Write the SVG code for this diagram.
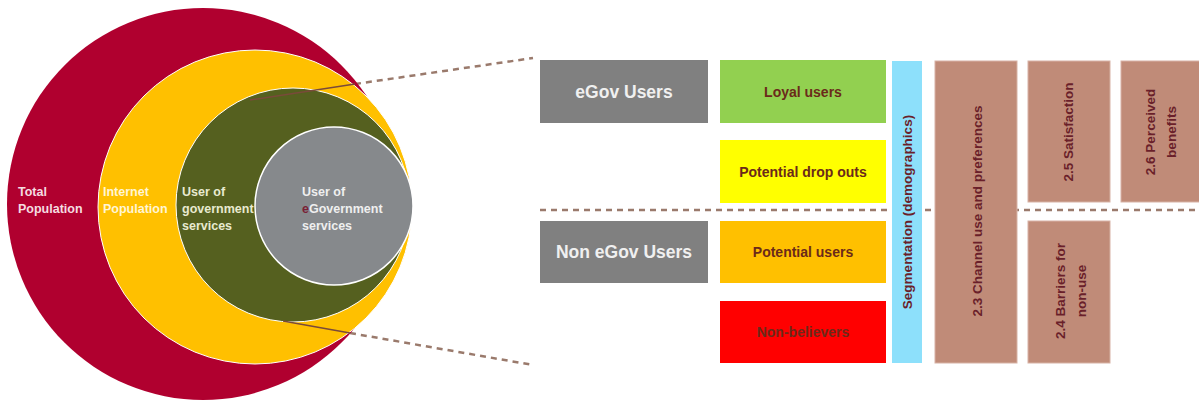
<svg xmlns="http://www.w3.org/2000/svg" width="1199" height="402" viewBox="0 0 1199 402">
<style>
.ct{font-family:"Liberation Sans",Arial,sans-serif;font-size:12.5px;font-weight:bold;}
.bt{font-family:"Liberation Sans",Arial,sans-serif;font-size:14px;font-weight:bold;fill:#6b2a1a;text-anchor:middle;}
.gt{font-family:"Liberation Sans",Arial,sans-serif;font-size:17.5px;font-weight:bold;fill:#f0f0f0;text-anchor:middle;}
.vt{font-family:"Liberation Sans",Arial,sans-serif;font-size:13.5px;font-weight:bold;fill:#6a1f2a;text-anchor:middle;}
.brown{fill:#c08b78;stroke:#d7b2a5;stroke-width:1;}
.dash{stroke:#9a7a6c;stroke-width:2.5;stroke-dasharray:6,5;fill:none;}
.solid{stroke:#7a4a3a;stroke-width:1.5;fill:none;}
</style>
<rect width="1199" height="402" fill="#ffffff"/>
<g id="connectors">
<line class="dash" x1="540" y1="210" x2="1199" y2="210"/>
<line class="dash" x1="355" y1="84" x2="533" y2="58"/>
<line class="dash" x1="350" y1="333" x2="533" y2="365"/>
</g>
<g id="total-population">
<circle cx="203" cy="204" r="196" fill="#b0002f"/>
<text class="ct" fill="#f5dce0"><tspan x="18" y="196">Total</tspan><tspan x="18" y="213">Population</tspan></text>
</g>
<g id="internet-population">
<circle cx="255" cy="207" r="157" fill="#ffc000" stroke="#ffffff" stroke-width="1"/>
<text class="ct" fill="#fff5d6"><tspan x="103" y="196">Internet</tspan><tspan x="103" y="213">Population</tspan></text>
</g>
<g id="gov-users">
<circle cx="293" cy="205" r="117" fill="#55601f" stroke="#ffffff" stroke-width="1"/>
<text class="ct" fill="#e8ead0"><tspan x="182" y="196">User of</tspan><tspan x="182" y="213">government</tspan><tspan x="182" y="230">services</tspan></text>
</g>
<g id="egov-users-circle">
<circle cx="334" cy="206" r="79" fill="#86898c" stroke="#ffffff" stroke-width="1.5"/>
<text class="ct" fill="#efefef"><tspan x="302" y="196">User of</tspan><tspan x="302" y="213"><tspan fill="#7a1f35">e</tspan>Government</tspan><tspan x="302" y="230">services</tspan></text>
</g>
<g id="zoom-lines">
<line class="solid" x1="250" y1="100" x2="355" y2="84"/>
<line class="solid" x1="283" y1="321" x2="350" y2="333"/>
</g>
<g id="egov-users">
<rect x="540" y="60" width="168" height="63" fill="#808080"/>
<text class="gt" x="624" y="98">eGov Users</text>
</g>
<g id="non-egov-users">
<rect x="540" y="221" width="168" height="62" fill="#808080"/>
<text class="gt" x="624" y="258">Non eGov Users</text>
</g>
<g id="loyal-users">
<rect x="720" y="60" width="166" height="63" fill="#92d050"/>
<text class="bt" x="803" y="97">Loyal users</text>
</g>
<g id="potential-drop-outs">
<rect x="720" y="140" width="166" height="63" fill="#ffff00"/>
<text class="bt" x="803" y="177">Potential drop outs</text>
</g>
<g id="potential-users">
<rect x="720" y="221" width="166" height="62" fill="#ffc000"/>
<text class="bt" x="803" y="257">Potential users</text>
</g>
<g id="non-believers">
<rect x="720" y="301" width="166" height="62" fill="#ff0000"/>
<text class="bt" x="803" y="337" fill="#6b0000">Non-believers</text>
</g>
<g id="segmentation">
<rect x="892" y="61" width="30" height="302" fill="#8de0fb"/>
<text class="vt" font-size="15" fill="#3e3a50" transform="translate(912,212) rotate(-90)">Segmentation (demographics)</text>
</g>
<g id="channel-use">
<rect class="brown" x="935" y="61" width="82" height="302"/>
<text class="vt" font-size="14.5" transform="translate(982,211) rotate(-90)">2.3 Channel use and preferences</text>
</g>
<g id="satisfaction">
<rect class="brown" x="1028" y="61" width="82" height="141"/>
<text class="vt" transform="translate(1073,132) rotate(-90)">2.5 Satisfaction</text>
</g>
<g id="perceived-benefits">
<rect class="brown" x="1121" y="61" width="84" height="141"/>
<text class="vt" transform="translate(1163,132) rotate(-90)"><tspan x="0" y="-8">2.6 Perceived</tspan><tspan x="0" y="13">benefits</tspan></text>
</g>
<g id="barriers">
<rect class="brown" x="1028" y="221" width="82" height="142"/>
<text class="vt" transform="translate(1070,291) rotate(-90)"><tspan x="0" y="-5">2.4 Barriers for</tspan><tspan x="0" y="16">non-use</tspan></text>
</g>
</svg>
